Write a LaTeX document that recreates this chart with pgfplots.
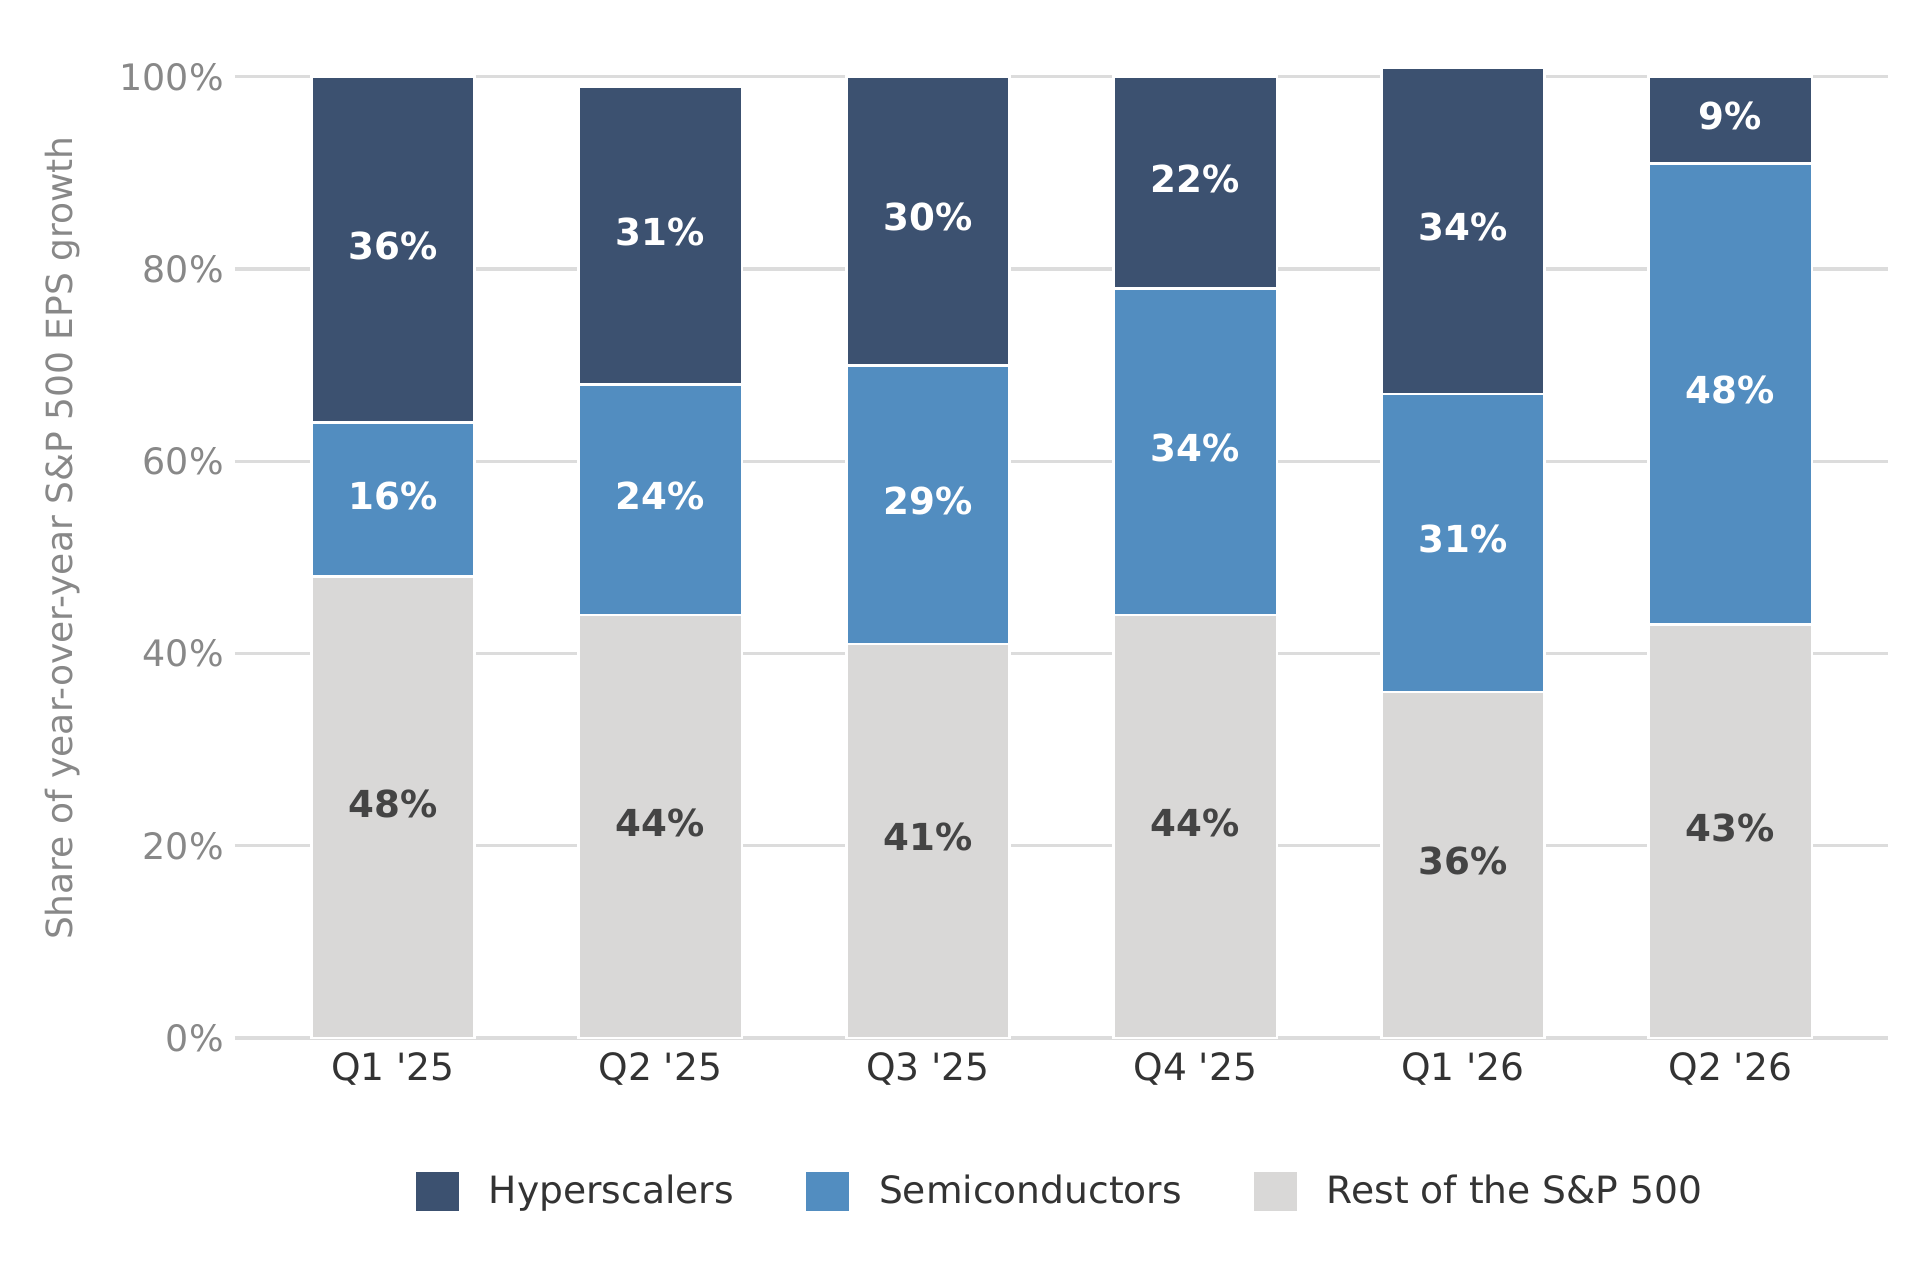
\documentclass[border=0pt]{standalone}
\usepackage{pgfplots}
\usepackage{pgfplotstable}
\pgfplotsset{compat=1.18}
\usepackage{fontspec}
\setmainfont{DejaVu Sans}[Ligatures=TeXOff]
\definecolor{hyper}{HTML}{3C5170}
\definecolor{semi}{HTML}{528DC0}
\definecolor{rest}{HTML}{D9D8D7}
\definecolor{gridc}{HTML}{DCDCDC}
\definecolor{tickc}{HTML}{888888}
\definecolor{darkt}{HTML}{333333}
\definecolor{restt}{HTML}{444444}
\tikzset{barlab/.style={anchor=center, yshift=0.9pt, font=\fontsize{9.3}{11}\selectfont\bfseries}}
\pgfplotstableread{
x rest semi hyper
0 48 16 36
1 44 24 31
2 41 29 30
3 44 34 22
4 36 31 34
5 43 48 9
}\datatable
\begin{document}
\begin{tikzpicture}
\useasboundingbox (0,0) rectangle (482.5pt,317pt);
\pgfplotsset{
 common/.style={
  at={(58.75pt,57.5pt)}, anchor=south west,
  scale only axis, width=413.3pt, height=240.3pt,
  xmin=-0.59, xmax=5.59, ymin=0, ymax=100,
 },
}
\begin{axis}[common,
  ybar stacked, bar width=0.61,
  clip=false,
  axis line style={draw=none},
  major tick length=0pt,
  ymajorgrids, grid style={gridc, line width=0.8pt},
  ytick={0,20,40,60,80,100},
  yticklabel={\pgfmathprintnumber{\tick}\%},
  yticklabel style={text=tickc, font=\fontsize{9.1}{11}\selectfont, xshift=0.7pt},
  /pgf/number format/assume math mode=true,
  xtick={0,1,2,3,4,5},
  xticklabels={Q1 '25,Q2 '25,Q3 '25,Q4 '25,Q1 '26,Q2 '26},
  xticklabel style={text=darkt, font=\fontsize{9.4}{11}\selectfont},
  ylabel={Share of year-over-year S\&P 500 EPS growth},
  every axis y label/.style={at={(axis description cs:-0.1045,0.52)}, rotate=90, anchor=center, text=tickc, font=\fontsize{9}{11}\selectfont},
  legend style={at={(0.5,-0.160)}, anchor=center, draw=none, legend columns=3,
    font=\fontsize{9.4}{11}\selectfont, text=darkt,
    /tikz/every odd column/.append style={column sep=4.8pt},
    /tikz/every even column/.append style={column sep=15.3pt}},
  legend cell align=left,
  reverse legend,
  legend image code/.code={\fill[#1] (0pt,-5.2pt) rectangle (11.5pt,5.2pt);},
]
\addplot[fill=rest, draw=white, line width=0.7pt] table[x=x, y=rest] {\datatable};
\addlegendentry{Rest of the S\&P 500}
\addplot[fill=semi, draw=white, line width=0.7pt] table[x=x, y=semi] {\datatable};
\addlegendentry{Semiconductors}
\addplot[fill=hyper, draw=white, line width=0.7pt] table[x=x, y=hyper] {\datatable};
\addlegendentry{Hyperscalers}
\end{axis}
\begin{axis}[common, hide axis, clip=false]
\addplot[draw=none, nodes near coords, point meta=explicit symbolic,
  nodes near coords style={barlab, text=restt}]
  coordinates {(0,24) [48\%] (1,22) [44\%] (2,20.5) [41\%] (3,22) [44\%] (4,18) [36\%] (5,21.5) [43\%]};
\addplot[draw=none, nodes near coords, point meta=explicit symbolic,
  nodes near coords style={barlab, text=white}]
  coordinates {(0,56) [16\%] (1,56) [24\%] (2,55.5) [29\%] (3,61) [34\%] (4,51.5) [31\%] (5,67) [48\%]};
\addplot[draw=none, nodes near coords, point meta=explicit symbolic,
  nodes near coords style={barlab, text=white}]
  coordinates {(0,82) [36\%] (1,83.5) [31\%] (2,85) [30\%] (3,89) [22\%] (4,84) [34\%] (5,95.5) [9\%]};
\end{axis}
\end{tikzpicture}
\end{document}
